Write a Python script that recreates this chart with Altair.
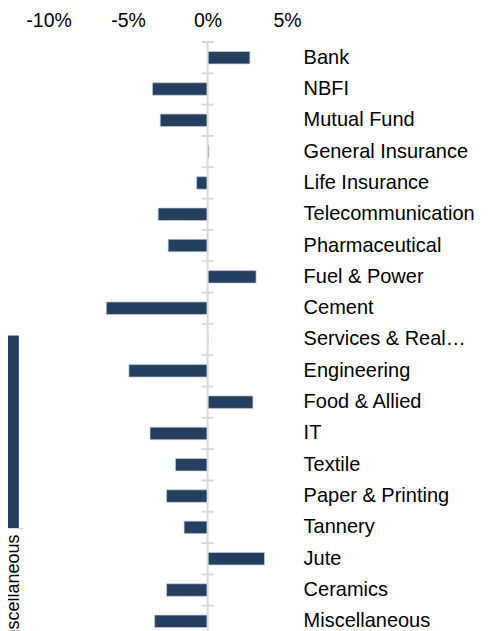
import altair as alt
import pandas as pd

# ---- data -------------------------------------------------------------
sectors = [
    "Bank", "NBFI", "Mutual Fund", "General Insurance", "Life Insurance",
    "Telecommunication", "Pharmaceutical", "Fuel & Power", "Cement",
    "Services & Real Estate", "Engineering", "Food & Allied", "IT", "Textile",
    "Paper & Printing", "Tannery", "Jute", "Ceramics", "Miscellaneous",
]
returns = [2.66, -3.47, -2.98, 0.08, -0.69, -3.11, -2.48, 3.05, -6.37, 0.03,
           -4.95, 2.85, -3.62, -2.02, -2.58, -1.48, 3.58, -2.58, -3.33]
x_ticks = [-10, -5, 0, 5]

# clipped fragment of a neighbouring chart (left edge)
frag_category = ["Miscellaneous", "Miscellaneous"]
frag_series = ["A", "B"]
frag_values = [3.70, 3.96]

FONT = "Liberation Sans"
GRID = "#D9D9D9"

df = pd.DataFrame({"sector": sectors, "ret": returns})
fdf = pd.DataFrame({"cat": frag_category, "series": frag_series, "val": frag_values})

yaxis = alt.Axis(orient="right", domain=False, ticks=False, labelPadding=16,
                 labelLimit=200, labelFontSize=20, labelFont=FONT,
                 labelColor="#000000", title=None,
                 labelExpr="datum.label == 'Services & Real Estate' ? 'Services & Real\u2026' : datum.label")
yscale = alt.Scale(paddingInner=0, paddingOuter=0)
xscale = alt.Scale(domain=[-10, 5], nice=False, zero=False)
xaxis = alt.Axis(orient="top", values=x_ticks, labelExpr="datum.value + '%'",
                 grid=False, domain=False, ticks=False, tickSize=0,
                 labelFlush=False, labelOverlap=False,
                 labelPadding=12, labelFontSize=19.5, labelFont=FONT,
                 labelColor="#000000", title=None)

bars = alt.Chart(df).mark_bar(size=12.5, color="#253F60", stroke="#C5CEDA",
                              strokeWidth=0.7).encode(
    y=alt.Y("sector:N", sort=sectors, scale=yscale, axis=yaxis),
    x=alt.X("ret:Q", scale=xscale, axis=xaxis),
)

zero_line = alt.Chart(pd.DataFrame({"z": [0]})).mark_rule(
    color=GRID, strokeWidth=2).encode(x=alt.X("z:Q", scale=xscale, axis=xaxis))

ticks = alt.Chart(df).mark_rule(color=GRID, strokeWidth=2).encode(
    y=alt.Y("sector:N", sort=sectors, scale=yscale, axis=yaxis, bandPosition=0),
    x=alt.datum(-0.38),
    x2=alt.datum(0.38),
)

main = alt.layer(bars, zero_line, ticks).properties(width=238.5, height=595)

frag = alt.Chart(fdf).mark_bar().encode(
    x=alt.X("cat:N", scale=alt.Scale(paddingInner=0.25, paddingOuter=0.125),
            axis=alt.Axis(labelAngle=270, domainColor=GRID, domainWidth=1.5,
                          ticks=False, labelFontSize=18, labelFont=FONT,
                          labelColor="#000000", labelPadding=6, labelOffset=8,
                          title=None)),
    xOffset=alt.XOffset("series:N", scale=alt.Scale(paddingInner=0.05)),
    y=alt.Y("val:Q", scale=alt.Scale(domain=[0, 10]), axis=None),
    color=alt.Color("series:N", scale=alt.Scale(range=["#5C8BC5", "#253F60"]),
                    legend=None),
).properties(width=33.4, height=486)

chart = alt.hconcat(frag, main, spacing=2).properties(
    padding={"left": -18.4, "top": 2, "right": 0, "bottom": 0}
).configure_view(stroke=None)

chart.save("out.html", embed_options={"renderer": "svg", "actions": False})
